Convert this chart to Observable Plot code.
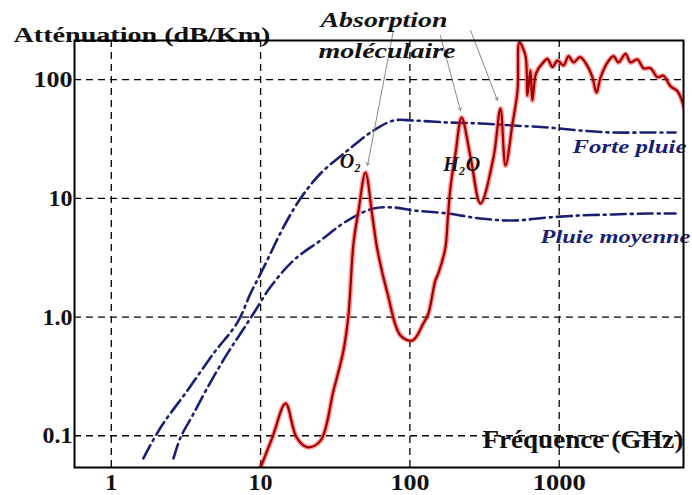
<!DOCTYPE html>
<html>
<head>
<meta charset="utf-8">
<script src="https://cdn.jsdelivr.net/npm/d3@7"></script>
<script src="https://cdn.jsdelivr.net/npm/@observablehq/plot@0.6"></script>
<style>
  html, body { margin: 0; padding: 0; background: #fff; }
</style>
</head>
<body>
<div id="chart"></div>
<script>
// ---- data ----
const xTicks = [1, 10, 100, 1000];
const xTickLabels = ["1", "10", "100", "1000"];
const yTicks = [0.1, 1, 10, 100];
const yTickLabels = ["0.1", "1.0", "10", "100"];

// molecular absorption (O2, H2O)
const redFreq = [10.0, 12.0, 14.7, 17.4, 20.6, 25.2, 30.8, 35.9, 38.8, 41.9, 45.3, 50.4, 56.2, 60.7, 70.8, 86.5, 104, 123, 133, 148, 155, 173, 179, 187, 202, 222, 255, 297, 363, 404, 437, 487, 526, 541, 594, 612, 641, 661, 693, 726, 772, 834, 901, 974, 1069, 1154, 1247, 1380, 1547, 1671, 1778, 1891, 2106, 2310, 2496, 2781, 3003, 3345, 3670, 4088, 4553, 4995, 5566, 6200, 6908];
const redAtt = [0.054, 0.097, 0.187, 0.097, 0.080, 0.091, 0.241, 0.523, 1.05, 4.17, 7.91, 16.5, 6.90, 3.64, 1.58, 0.70, 0.635, 0.883, 1.07, 2.03, 2.33, 3.86, 6.51, 12.4, 23.9, 48.0, 22.1, 9.06, 22.1, 57.2, 18.9, 42.8, 81.1, 206, 160, 73.6, 120, 66.8, 108, 124, 137, 150, 128, 145, 132, 158, 140, 155, 130, 104, 78, 104, 140, 158, 140, 165, 140, 148, 125, 125, 105, 108, 88, 80, 57];

// heavy rain
const forteFreq = [1.64, 2.14, 3.24, 4.84, 7.00, 8.56, 10.5, 14.2, 18.5, 25.2, 38.2, 57.0, 77.6, 106, 179, 297, 494, 835, 1389, 2310, 3904, 6012];
const forteAtt = [0.0644, 0.1175, 0.241, 0.494, 0.901, 1.58, 2.62, 5.69, 9.98, 16.2, 25.3, 37.3, 45.3, 45.3, 43.6, 42.8, 41.1, 39.6, 37.3, 35.9, 35.9, 35.9];

// medium rain
const moyFreq = [2.61, 2.91, 3.50, 4.41, 6.00, 7.34, 8.96, 11.6, 16.6, 25.2, 38.2, 57.0, 77.6, 106, 179, 297, 494, 835, 1389, 2310, 3904, 6012];
const moyAtt = [0.0644, 0.0968, 0.148, 0.255, 0.494, 0.727, 1.07, 1.78, 3.00, 4.42, 6.51, 8.22, 8.38, 7.91, 7.46, 6.77, 6.51, 6.90, 7.18, 7.32, 7.46, 7.46];

// text labels placed in data units
const curveLabels = [
  {text: "Forte pluie", x: 1228, y: 26.9},
  {text: "Pluie moyenne", x: 749, y: 4.78}
];
const peakLabels = [
  {text: "O₂", x: 40.0, y: 20.5},
  {text: "H₂O", x: 222, y: 19.3}
];
const headLabels = [
  {text: "Absorption", x: 67.1, y: 312},
  {text: "moléculaire", x: 70.3, y: 171}
];
const axisTitleX = [{text: "Fréquence (GHz)", x: 306, y: 0.0918}];
const axisTitleY = ["Atténuation (dB/Km)"];

// annotation pointers (from the heading to the absorption peaks)
const pointers = [
  {x1: 77.6, y1: 260, x2: 52.0, y2: 18.9},
  {x1: 160, y1: 236, x2: 218, y2: 55.0},
  {x1: 255, y1: 260, x2: 386, y2: 66.8}
];

const toPts = (xs, ys) => xs.map((x, i) => ({x, y: ys[i]}));
const red = toPts(redFreq, redAtt);
const forte = toPts(forteFreq, forteAtt);
const moy = toPts(moyFreq, moyAtt);

const serif = "'Liberation Serif', 'Times New Roman', serif";
const navy = "#1b1f72";

const chart = Plot.plot({
  width: 692,
  height: 495,
  marginLeft: 74,
  marginRight: 9,
  marginTop: 40,
  marginBottom: 28,
  style: {fontFamily: serif, fontSize: "24px", fontWeight: "bold", color: "#111", background: "#fff"},
  x: {type: "log", domain: [0.567, 6800], ticks: xTicks,
      tickFormat: d => xTickLabels[xTicks.indexOf(d)], tickSize: 0, tickPadding: 5, label: null},
  y: {type: "log", domain: [0.054, 214], ticks: yTicks,
      tickFormat: d => yTickLabels[yTicks.indexOf(d)], tickSize: 0, tickPadding: 2, label: null},
  marks: [
    Plot.ruleX(xTicks, {stroke: "#000", strokeWidth: 1.3, strokeDasharray: "7,5"}),
    Plot.ruleY(yTicks, {stroke: "#000", strokeWidth: 1.3, strokeDasharray: "7,5"}),
    Plot.line(forte, {x: "x", y: "y", stroke: navy, strokeWidth: 2.6, strokeDasharray: "15,5,2,5", curve: "catmull-rom", clip: true}),
    Plot.line(moy, {x: "x", y: "y", stroke: navy, strokeWidth: 2.6, strokeDasharray: "15,5,2,5", curve: "catmull-rom", clip: true}),
    Plot.line(red, {x: "x", y: "y", stroke: "#ff1a1a", strokeOpacity: 0.45, strokeWidth: 5, curve: "catmull-rom", clip: true}),
    Plot.line(red, {x: "x", y: "y", stroke: "#9e0000", strokeWidth: 2.2, curve: "catmull-rom", clip: true}),
    Plot.arrow(pointers, {x1: "x1", y1: "y1", x2: "x2", y2: "y2", stroke: "#8a8a8a", strokeWidth: 1, headLength: 5}),
    Plot.text(curveLabels, {x: "x", y: "y", text: "text", textAnchor: "start", fill: navy,
      fontFamily: serif, fontSize: 19, fontWeight: "bold", fontStyle: "italic"}),
    Plot.text(peakLabels, {x: "x", y: "y", text: "text", fill: "#111",
      fontFamily: serif, fontSize: 20, fontWeight: "bold", fontStyle: "italic"}),
    Plot.text(headLabels, {x: "x", y: "y", text: "text", fill: "#111",
      fontFamily: serif, fontSize: 20, fontWeight: "bold", fontStyle: "italic"}),
    Plot.text(axisTitleX, {x: "x", y: "y", text: "text", textAnchor: "start", fill: "#111",
      fontFamily: serif, fontSize: 26, fontWeight: "bold"}),
    Plot.text(axisTitleY, {text: d => d, frameAnchor: "top-left", dx: -61, dy: -12.4, textAnchor: "start", fill: "#111",
      fontFamily: serif, fontSize: 20, fontWeight: "bold"}),
    Plot.frame({stroke: "#000", strokeWidth: 2})
  ]
});

// stretch the wide bold lettering to the widths seen in the reference
const textWidths = {
  "Atténuation (dB/Km)": 257,
  "Absorption": 127,
  "moléculaire": 137,
  "Forte pluie": 114,
  "Pluie moyenne": 150,
  "Fréquence (GHz)": 201,
  "1000": 53,
  "100": 39
};
d3.select(chart).selectAll("text").each(function() {
  const w = textWidths[this.textContent];
  if (w) {
    this.setAttribute("textLength", w);
    this.setAttribute("lengthAdjust", "spacingAndGlyphs");
  }
});

document.getElementById("chart").appendChild(chart);
</script>
</body>
</html>
